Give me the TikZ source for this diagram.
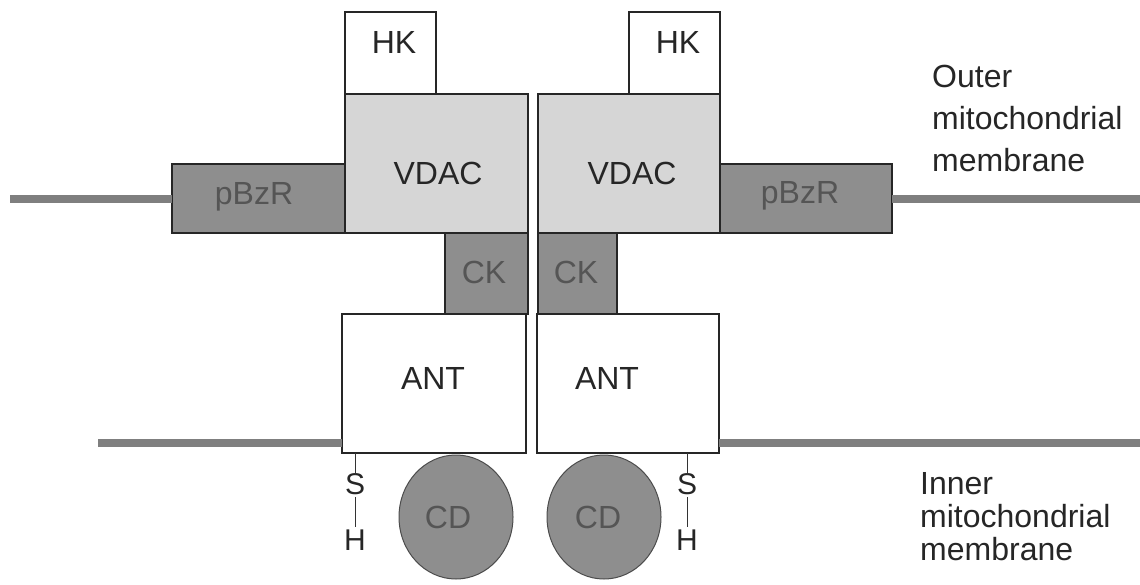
\documentclass[tikz,border=0pt]{standalone}
\usepackage{fontspec}
\setmainfont{Liberation Sans}
\usetikzlibrary{shapes.geometric}
\definecolor{vdacgray}{HTML}{D6D6D6}
\definecolor{darkgray}{HTML}{8E8E8E}
\definecolor{memgray}{HTML}{7F7F7F}
\definecolor{txt}{HTML}{262626}
\definecolor{dtxt}{HTML}{555555}
\tikzset{
  box/.style={draw=black!85, line width=1.3pt, rectangle, inner sep=0pt, outer sep=0pt, anchor=north west},
  whitebox/.style={box, fill=white},
  lightbox/.style={box, fill=vdacgray},
  darkbox/.style={box, fill=darkgray},
  blob/.style={ellipse, draw=black!70, line width=1pt, fill=darkgray, inner sep=0pt, minimum width=114pt, minimum height=124pt},
  lbl/.style={font=\fontsize{32}{38}\selectfont, text=txt, inner sep=0pt},
  dlbl/.style={lbl, text=dtxt},
  membrane/.style={draw=memgray, line width=8pt},
  bond/.style={draw=black!80, line width=1pt},
  side/.style={inner sep=0pt, anchor=base west, align=left, text=txt},
}
\begin{document}
\begin{tikzpicture}[x=1pt,y=-1pt]
\useasboundingbox (0,0) rectangle (1140,584);
% boxes
\node[whitebox, minimum width=91pt, minimum height=82pt] (hkL) at (345,12) {};
\node[whitebox, minimum width=91pt, minimum height=82pt] (hkR) at (629,12) {};
\node[darkbox, minimum width=173pt, minimum height=69pt] (pbzL) at (172,164) {};
\node[darkbox, minimum width=172pt, minimum height=69pt] (pbzR) at (720,164) {};
\node[lightbox, minimum width=183pt, minimum height=139pt] (vdacL) at (345,94) {};
\node[lightbox, minimum width=182pt, minimum height=139pt] (vdacR) at (538,94) {};
\node[darkbox, minimum width=83pt, minimum height=81pt] (ckL) at (445,233) {};
\node[darkbox, minimum width=79pt, minimum height=81pt] (ckR) at (538,233) {};
\node[whitebox, minimum width=184pt, minimum height=139pt] (antL) at (342,314) {};
\node[whitebox, minimum width=182pt, minimum height=139pt] (antR) at (537,314) {};
% membranes
\coordinate (omL) at (10,199);
\coordinate (omR) at (1140,199);
\coordinate (imL) at (98,443);
\coordinate (imR) at (1140,443);
\draw[membrane] (omL) -- (omL -| pbzL.west);
\draw[membrane] (pbzR.east |- omR) -- (omR);
\draw[membrane] (imL) -- (imL -| antL.west);
\draw[membrane] (antR.east |- imR) -- (imR);
% CD blobs
\node[blob] (cdL) at (456,517) {};
\node[blob] (cdR) at (604,517) {};
% labels
\node[lbl] (thkL) at (394,42) {HK};
\node[lbl] (thkR) at (678,42) {HK};
\node[lbl] (tvdacL) at (438,173) {VDAC};
\node[lbl] (tvdacR) at (632,173) {VDAC};
\node[dlbl] (tpbzL) at (254,197) {pBzR};
\node[dlbl] (tpbzR) at (800,196) {pBzR};
\node[dlbl] (tckL) at (484,272) {CK};
\node[dlbl] (tckR) at (576,272) {CK};
\node[lbl] (tantL) at (433,378) {ANT};
\node[lbl] (tantR) at (607,378) {ANT};
\node[dlbl] (tcdL) at (448,517) {CD};
\node[dlbl] (tcdR) at (598,517) {CD};
% S-H groups
\node[lbl, font=\fontsize{30}{36}\selectfont] (sL) at (355,484) {S};
\node[lbl, font=\fontsize{30}{36}\selectfont] (hL) at (355,540) {H};
\node[lbl, font=\fontsize{30}{36}\selectfont] (sR) at (687,484) {S};
\node[lbl, font=\fontsize{30}{36}\selectfont] (hR) at (687,540) {H};
\coordinate (aL) at (355,453);
\coordinate (aR) at (687,453);
\draw[bond] (aL) -- ([yshift=-2pt]sL.north);
\draw[bond] ([yshift=-2pt]sL.south) -- ([yshift=2pt]hL.north);
\draw[bond] (aR) -- ([yshift=-2pt]sR.north);
\draw[bond] ([yshift=-2pt]sR.south) -- ([yshift=2pt]hR.north);
% side labels (anchored at the baseline of the last line)
\node[side, font=\fontsize{32}{42}\selectfont] (outer) at (932,171) {Outer\\mitochondrial\\membrane};
\node[side, font=\fontsize{32}{33}\selectfont] (inner) at (920,560) {Inner\\mitochondrial\\membrane};
\end{tikzpicture}
\end{document}
